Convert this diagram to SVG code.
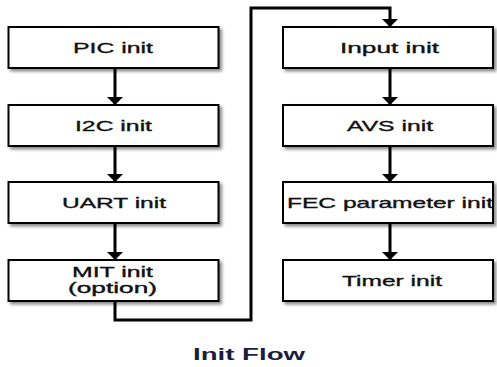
<svg xmlns="http://www.w3.org/2000/svg" width="497" height="367" viewBox="0 0 497 367">
<defs>
<filter id="sh" x="-10%" y="-20%" width="130%" height="160%">
<feDropShadow dx="2.5" dy="2.5" stdDeviation="1.5" flood-color="#000" flood-opacity="0.45"/>
</filter>
<marker id="ah" markerWidth="8" markerHeight="16" refX="7" refY="8" orient="auto" markerUnits="userSpaceOnUse" viewBox="0 0 8 16">
<path d="M0,0 L8,8 L0,16 Z" fill="#000"/>
</marker>
<style>
.box{fill:#fff;stroke:#000;stroke-width:2;filter:url(#sh)}
.lbl{font-family:"Liberation Sans","Noto Sans CJK KR",sans-serif;font-size:15px;fill:#111;stroke:#111;stroke-width:0.35}
.sm{font-size:14px}
.con{fill:none;stroke:#000;stroke-width:3}
.title{font-family:"Liberation Sans",sans-serif;font-size:16px;font-weight:bold;fill:#1c1c3c}
</style>
</defs>
<rect width="497" height="367" fill="#fff"/>
<g id="connectors">
<line class="con" x1="115" y1="69" x2="115" y2="104" marker-end="url(#ah)"/>
<line class="con" x1="115" y1="147" x2="115" y2="181" marker-end="url(#ah)"/>
<line class="con" x1="115" y1="224" x2="115" y2="259" marker-end="url(#ah)"/>
<polyline class="con" points="115,302 115,320 251,320 251,8 390,8 390,26" marker-end="url(#ah)"/>
<line class="con" x1="390" y1="69" x2="390" y2="104" marker-end="url(#ah)"/>
<line class="con" x1="390" y1="147" x2="390" y2="181" marker-end="url(#ah)"/>
<line class="con" x1="390" y1="224" x2="390" y2="259" marker-end="url(#ah)"/>
</g>
<g id="pic"><rect class="box" x="8.5" y="27" width="210" height="41"/><text class="lbl" x="73" y="53" textLength="80" lengthAdjust="spacingAndGlyphs">PIC init</text></g>
<g id="i2c"><rect class="box" x="8.5" y="105" width="210" height="41"/><text class="lbl" x="75" y="131" textLength="77" lengthAdjust="spacingAndGlyphs">I2C init</text></g>
<g id="uart"><rect class="box" x="8.5" y="182" width="210" height="41"/><text class="lbl" x="62" y="208" textLength="104" lengthAdjust="spacingAndGlyphs">UART init</text></g>
<g id="mit"><rect class="box" x="8.5" y="260" width="210" height="41"/><text class="lbl sm" x="72" y="277" textLength="81" lengthAdjust="spacingAndGlyphs">MIT init</text><text class="lbl sm" x="68" y="293" textLength="89" lengthAdjust="spacingAndGlyphs">(option)</text></g>
<g id="input"><rect class="box" x="283" y="27" width="210" height="41"/><text class="lbl" x="340" y="53" textLength="99" lengthAdjust="spacingAndGlyphs">Input init</text></g>
<g id="avs"><rect class="box" x="283" y="105" width="210" height="41"/><text class="lbl" x="347" y="131" textLength="86" lengthAdjust="spacingAndGlyphs">AVS init</text></g>
<g id="fec"><rect class="box" x="283" y="182" width="210" height="41"/><text class="lbl" x="287" y="208" textLength="206" lengthAdjust="spacingAndGlyphs">FEC parameter init</text></g>
<g id="timer"><rect class="box" x="283" y="260" width="210" height="41"/><text class="lbl" x="342" y="286" textLength="100" lengthAdjust="spacingAndGlyphs">Timer init</text></g>
<text class="title" x="193" y="360" textLength="112" lengthAdjust="spacingAndGlyphs">Init Flow</text>
</svg>
